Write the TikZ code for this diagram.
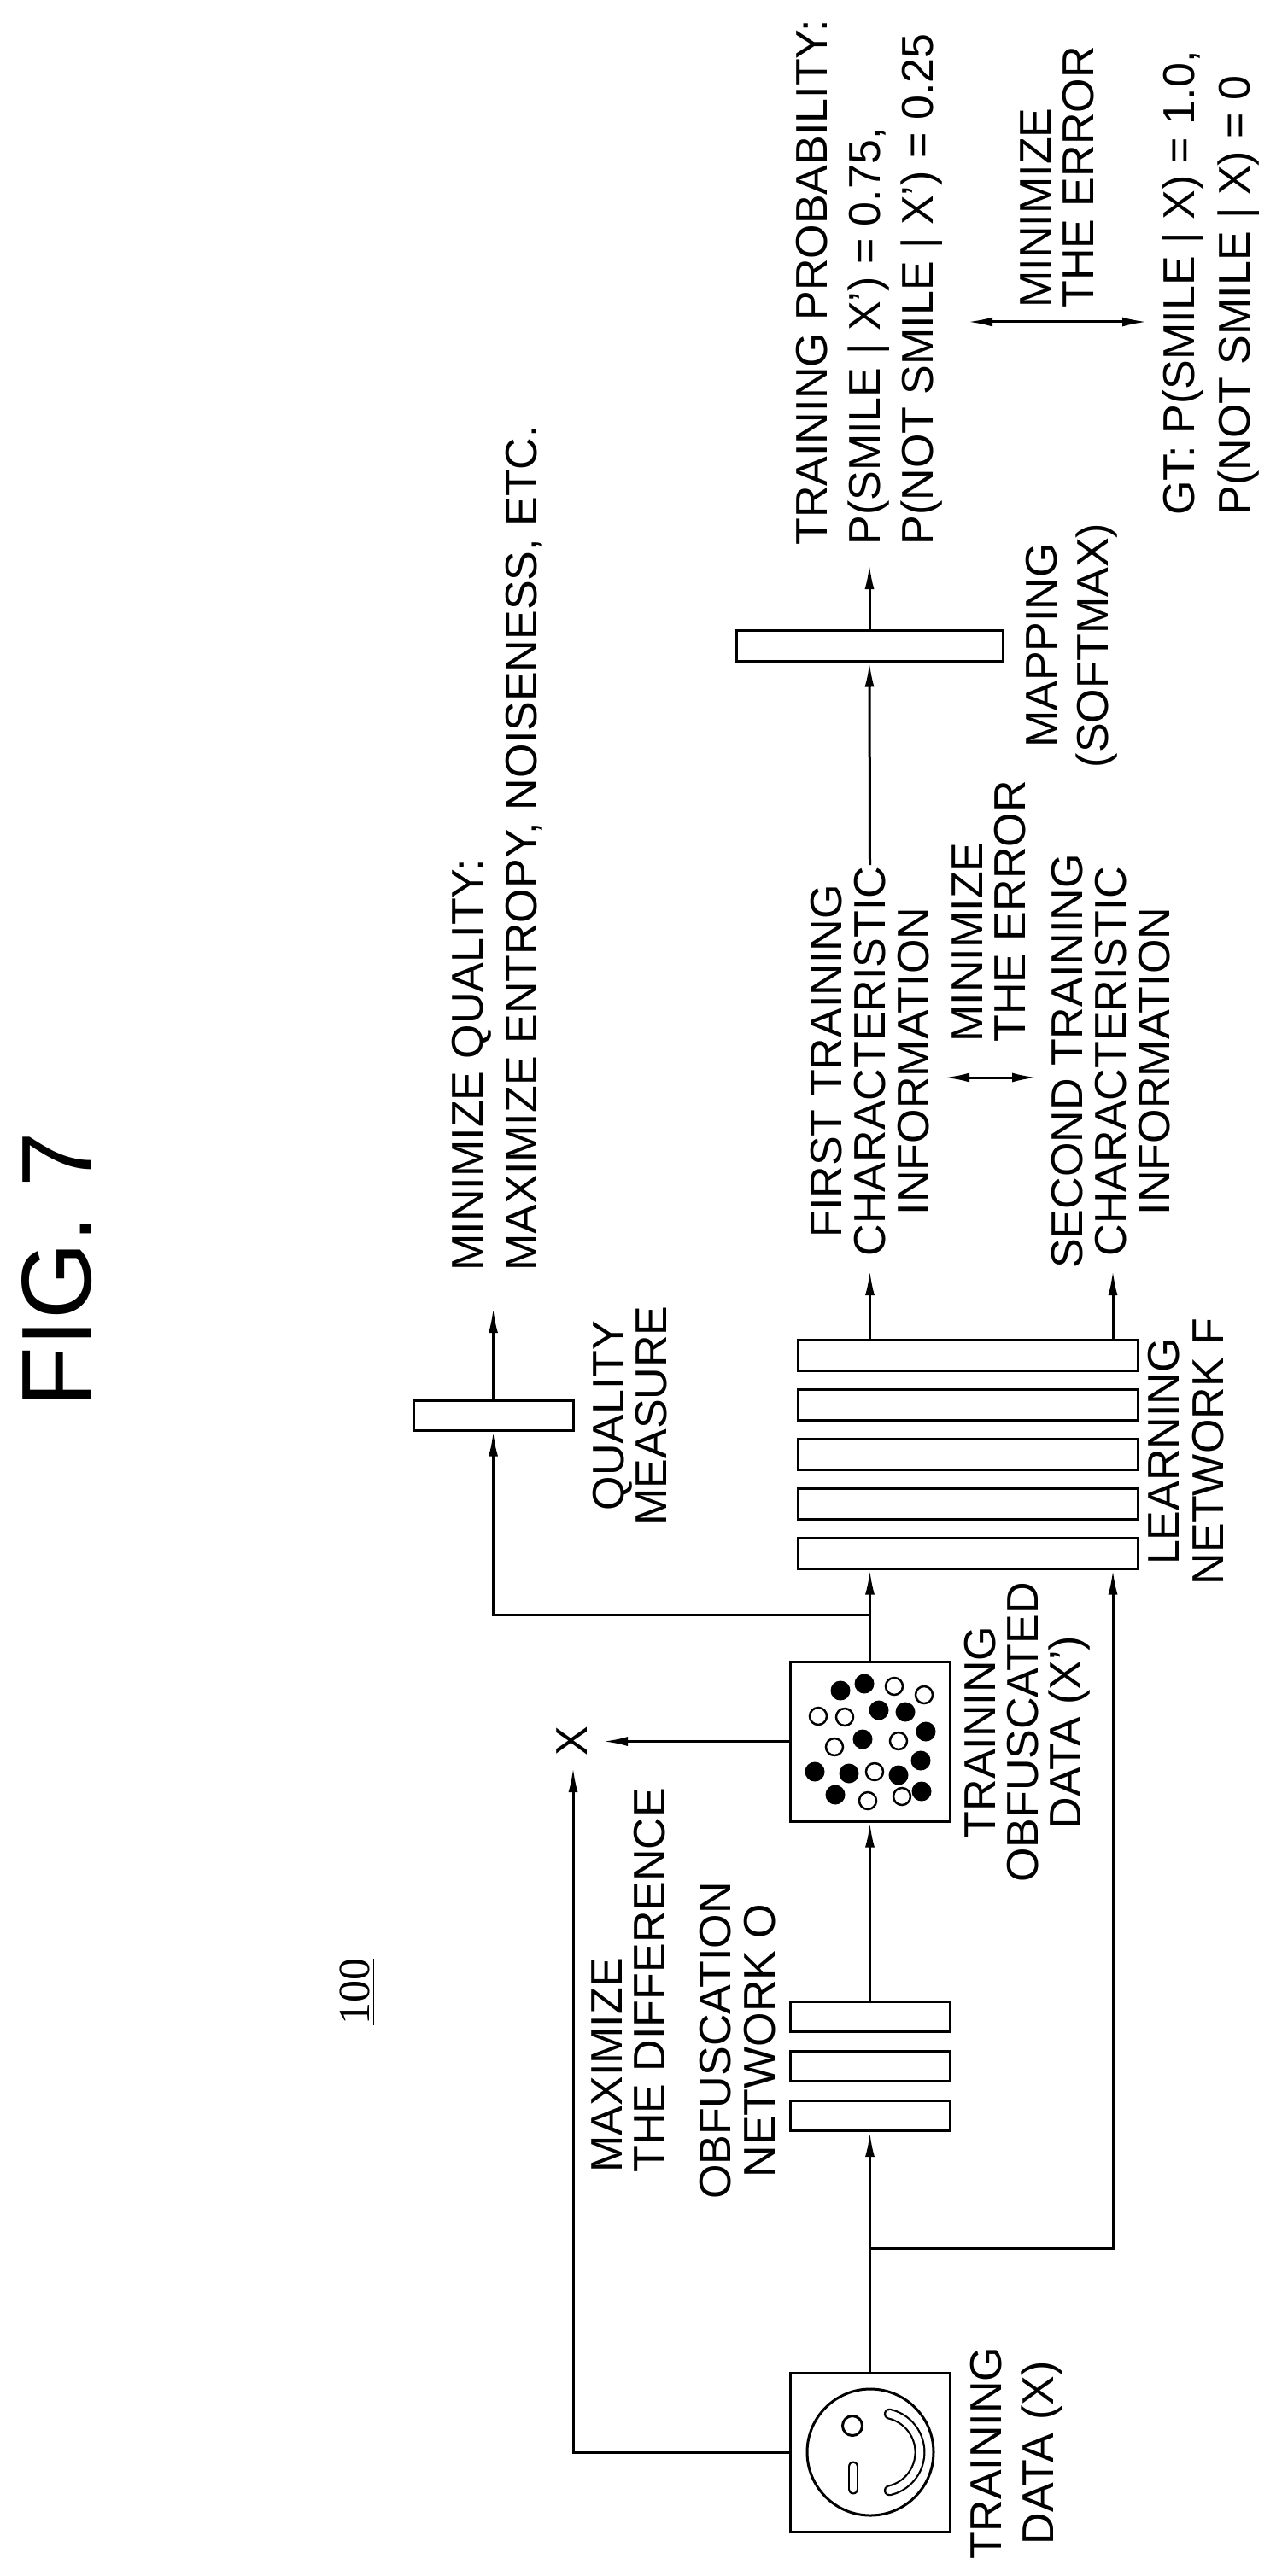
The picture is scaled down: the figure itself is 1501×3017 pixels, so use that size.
\documentclass[tikz,border=0pt]{standalone}
\usepackage{fontspec}
\setmainfont{Liberation Sans}
\newfontfamily\refnumfont{Liberation Serif}
\usetikzlibrary{positioning,arrows.meta}

\begin{document}
\begin{tikzpicture}[>={Latex[length=2.9mm,width=1.1mm]}, x=0.1mm, y=-0.1mm, line width=0.3mm,
    slab/.style n args={2}{draw, inner sep=0, minimum width=#1, minimum height=#2},
    lbl/.style={rotate=90, inner sep=0, align=center, font=\fontsize{14.8}{#1}\selectfont},
    lbl/.default=14.2,
    dotf/.style={circle, fill, inner sep=0, minimum size=2.3mm},
    doto/.style={circle, draw, line width=0.25mm, inner sep=0, minimum size=2mm}]

        \useasboundingbox (0,0) rectangle (1501,3017);

        % title and reference number
        \node[rotate=90, inner sep=0, anchor=base west, font=\fontsize{33}{33}\selectfont] (fig) at (106,1650) {FIG. 7};
        \node[rotate=90, inner sep=0, anchor=base west, font=\refnumfont\fontsize{14.8}{14.2}\selectfont] (ref) at (432,2373) {\underline{100}};

        % training data with face
        \node[slab={18.7mm}{18.6mm}] (td) at (1018.5,2872) {};
        \draw (1019,2872) circle[radius=74];
        \draw (998,2841) circle[radius=11.5];
        \draw[double, double distance=0.85mm, line width=0.22mm, line cap=round] (999,2889) -- (999,2915);
        \draw[double, double distance=0.85mm, line width=0.22mm, line cap=round] (1031,2872) ++(-77:46) arc[start angle=-77, end angle=77, radius=46];

        % obfuscation network O
        \foreach \k [evaluate=\k as \yy using 2362+58*(\k-1)] in {1,...,3} {
            \node[slab={18.7mm}{3.5mm}] (ob\k) at (1018.5,\yy) {};
        }

        % obfuscated data
        \node[slab={18.7mm}{18.7mm}] (od) at (1018.5,2039.5) {};
        \foreach \px/\py in {984/1980, 1012/1972, 1029/2003, 1060/2005, 1084/2028, 1010/2037,
                             954/2075, 994/2077, 1052/2079, 1078/2062, 978/2102, 1079/2098} {
            \node[dotf] at (\px,\py) {};
        }
        \foreach \px/\py in {1047/1975, 1082/1985, 958/2010, 989/2011, 1052/2039, 977/2046,
                             1024/2075, 1016/2109, 1056/2104} {
            \node[doto] at (\px,\py) {};
        }

        % learning network F
        \foreach \k [evaluate=\k as \yy using 1587+58*(\k-1)] in {1,...,5} {
            \node[slab={39.8mm}{3.6mm}] (lf\k) at (1133,\yy) {};
        }

        % quality measure and mapping
        \node[slab={18.7mm}{3.5mm}] (qm) at (577.5,1657.5) {};
        \node[slab={31.2mm}{3.6mm}] (mp) at (1018,756) {};

        % labels
        \node[lbl] (tdl) at (1190,2873) {TRAINING\\[1.1mm] DATA (X)};
        \node[lbl=14.8] (obl) at (864,2390) {OBFUSCATION\\ NETWORK O};
        \node[lbl, align=left, anchor=west] (mxd) at (736,2546) {MAXIMIZE\\ THE DIFFERENCE};
        \node[lbl] (odl) at (1203,2029) {TRAINING\\ OBFUSCATED\\ DATA (X’)};
        \node[lbl=14.8] (lfl) at (1389,1700) {LEARNING\\ NETWORK F};
        \node[lbl] (qml) at (738,1658) {QUALITY\\ MEASURE};
        \node[lbl=17.9, align=left, anchor=west] (mnq) at (582,1490) {MINIMIZE QUALITY:\\ MAXIMIZE ENTROPY, NOISENESS, ETC.};
        \node[lbl=14.5] (first) at (1018.5,1243) {FIRST TRAINING\\ CHARACTERISTIC\\ INFORMATION};
        \node[lbl=14.5] (second) at (1301,1243) {SECOND TRAINING\\ CHARACTERISTIC\\ INFORMATION};
        \node[lbl, align=left, anchor=west] (err1) at (1158,1222) {MINIMIZE\\ THE ERROR};
        \node[lbl=17.1] (mpl) at (1255,756) {MAPPING\\ (SOFTMAX)};
        \node[lbl=17.6, align=left, anchor=west] (prob) at (1018,640) {TRAINING PROBABILITY:\\ P(SMILE | X’) = 0.75,\\ P(NOT SMILE | X’) = 0.25};
        \node[lbl, align=left, anchor=west] (err2) at (1238,362) {MINIMIZE\\ THE ERROR};
        \node[lbl=18.5, align=left, anchor=west] (gt) at (1418,605) {GT: P(SMILE | X) = 1.0,\\ P(NOT SMILE | X) = 0};
        \node[lbl] (xo) at (670,2039) {X};

        % free ends and bends
        \coordinate (b1) at (1018.5,2633);
        \coordinate (fb) at (1303,2633);
        \coordinate (b2) at (1018.5,1891);
        \coordinate (qb) at (577.5,1891);
        \coordinate (qt) at (577.5,1532);
        \coordinate (dl) at (671,2872);
        \coordinate (dt) at (671,2070);
        \coordinate (xt) at (706,2039.5);
        \coordinate (f1) at (1018.5,1488);
        \coordinate (f2) at (1303,1488);
        \coordinate (pt) at (1018,661);
        \coordinate (e1a) at (1133,377);
        \coordinate (e1b) at (1343,377);
        \coordinate (e2a) at (1106,1262);
        \coordinate (e2b) at (1214,1262);

        % connectors
        \draw[->] (td.north) -- (ob3.south);
        \draw[->] (b1) -- (fb) -- (fb |- lf5.south);
        \draw[->] (ob1.north) -- (od.south);
        \draw[->] (od.north) -- (od.north |- lf5.south);
        \draw[->] (b2) -- (qb) -- (qm.south);
        \draw[->] (qm.north) -- (qt);
        \draw[->] (td.west) -- (dl) -- (dt);
        \draw[->] (od.west) -- (xt);
        \draw[->] (lf1.north -| f1) -- (f1);
        \draw[->] (lf1.north -| f2) -- (f2);
        \draw[->] (first.east) -- (mp.south);
        \draw[->] (mp.north) -- (pt);
        \draw[<->] (e1a) -- (e1b);
        \draw[<->] (e2a) -- (e2b);

    \end{tikzpicture}
\end{document}
